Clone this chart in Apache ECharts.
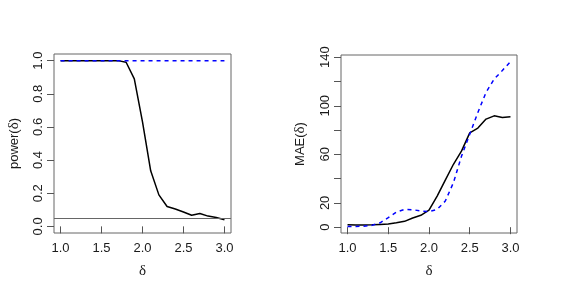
<!DOCTYPE html>
<html><head><meta charset="utf-8">
<script src="https://cdn.jsdelivr.net/npm/echarts@6/dist/echarts.min.js"></script>
<style>html,body{margin:0;padding:0;background:#fff}#c{width:572px;height:289px}</style>
</head><body><div id="c"></div>
<script>
const delta = [1.0,1.1,1.2,1.3,1.4,1.5,1.6,1.7,1.8,1.9,2.0,2.1,2.2,2.3,2.4,2.5,2.6,2.7,2.8,2.9,3.0];
const powerSolid = [1,1,1,1,1,1,1,1,0.99,0.89,0.63,0.335,0.19,0.12,0.105,0.087,0.067,0.078,0.062,0.054,0.04];
const powerDashed = [1,1,1,1,1,1,1,1,1,1,1,1,1,1,1,1,1,1,1,1,1];
const maeSolid = [2.0,1.8,1.8,2.0,2.3,2.6,3.6,4.8,7.5,9.8,14,25.6,38.8,51.8,62.8,77.7,81.6,89,91.7,90.4,91];
const maeDashed = [0.6,0.6,0.8,1.5,3.6,7.8,12.4,14.6,14.4,13.3,12.8,14.6,21.5,36.7,58.7,76.6,94.5,111,122,129,136.4];
const xTicks = [1.0,1.5,2.0,2.5,3.0];
const powerTicks = [0,0.2,0.4,0.6,0.8,1.0];
const maeTicks = [0,20,40,60,80,100,120,140];
const maeLabels = [0,20,60,100,140];
const alphaLevel = 0.05;

const pair = (xs, ys) => xs.map((x,i)=>[x,ys[i]]);
const FONT = 'Liberation Sans';
const axisCommon = {
  axisLine:{show:false}, splitLine:{show:false},
  axisTick:{show:true, inside:false, length:7, lineStyle:{color:'#555'}},
  axisLabel:{color:'#1a1a1a', fontFamily:FONT, fontSize:13}
};
const chart = echarts.init(document.getElementById('c'), null, {renderer:'canvas'});
const titleRich = {d:{fontFamily:'Liberation Serif', fontSize:15, color:'#1a1a1a'}, t:{fontFamily:FONT, fontSize:13, color:'#1a1a1a'}};
chart.setOption({
  animation:false,
  grid:[
    {left:54, top:54, width:177, height:179, show:true, borderColor:'#666', borderWidth:1, backgroundColor:'transparent'},
    {left:341, top:55, width:176, height:178, show:true, borderColor:'#666', borderWidth:1, backgroundColor:'transparent'}
  ],
  xAxis:[
    Object.assign({}, axisCommon, {gridIndex:0, type:'value', min:0.92, max:3.08,
      axisTick:Object.assign({}, axisCommon.axisTick, {customValues:xTicks}),
      axisLabel:Object.assign({}, axisCommon.axisLabel, {customValues:xTicks, margin:9, formatter:v=>v.toFixed(1)}),
      name:'{d|δ}', nameLocation:'middle', nameGap:31, nameTextStyle:{rich:titleRich}}),
    Object.assign({}, axisCommon, {gridIndex:1, type:'value', min:0.92, max:3.08,
      axisTick:Object.assign({}, axisCommon.axisTick, {customValues:xTicks}),
      axisLabel:Object.assign({}, axisCommon.axisLabel, {customValues:xTicks, margin:9, formatter:v=>v.toFixed(1)}),
      name:'{d|δ}', nameLocation:'middle', nameGap:31, nameTextStyle:{rich:titleRich}})
  ],
  yAxis:[
    Object.assign({}, axisCommon, {gridIndex:0, type:'value', min:-0.04, max:1.04,
      axisTick:Object.assign({}, axisCommon.axisTick, {customValues:powerTicks}),
      axisLabel:Object.assign({}, axisCommon.axisLabel, {customValues:powerTicks, rotate:90, margin:9, formatter:v=>v.toFixed(1)}),
      name:'{t|power(}{d|δ}{t|)}', nameLocation:'middle', nameGap:32, nameTextStyle:{rich:titleRich}}),
    Object.assign({}, axisCommon, {gridIndex:1, type:'value', min:-4.8, max:141.8,
      axisTick:Object.assign({}, axisCommon.axisTick, {customValues:maeTicks}),
      axisLabel:Object.assign({}, axisCommon.axisLabel, {customValues:maeLabels, rotate:90, margin:9}),
      name:'{t|MAE(}{d|δ}{t|)}', nameLocation:'middle', nameGap:33, nameTextStyle:{rich:titleRich}})
  ],
  series:[
    {type:'line', xAxisIndex:0, yAxisIndex:0, data:pair(delta,powerSolid), symbol:'none',
      lineStyle:{color:'#000', width:1.5}, z:3,
      markLine:{silent:true, symbol:'none', label:{show:false}, lineStyle:{color:'#666', width:1, type:'solid'},
        data:[{yAxis:alphaLevel}]}},
    {type:'line', xAxisIndex:0, yAxisIndex:0, data:pair(delta,powerDashed), symbol:'none',
      lineStyle:{color:'#0000ff', width:1.5, type:[4,4]}, z:4},
    {type:'line', xAxisIndex:1, yAxisIndex:1, data:pair(delta,maeSolid), symbol:'none',
      lineStyle:{color:'#000', width:1.5}, z:3},
    {type:'line', xAxisIndex:1, yAxisIndex:1, data:pair(delta,maeDashed), symbol:'none',
      lineStyle:{color:'#0000ff', width:1.5, type:[4,4]}, z:4}
  ]
});
</script></body></html>
